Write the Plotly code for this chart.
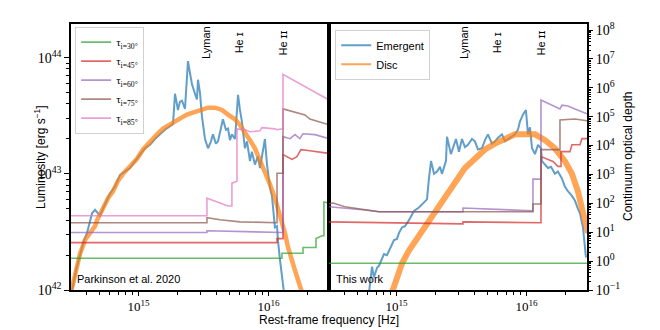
import numpy as np
import plotly.graph_objects as go

# ---- data (log10 frequency [Hz], log10 luminosity [erg/s], log10 optical depth) ----
# Parkinson et al. 2020 panel
lognu_emg_p = [14.488, 14.495, 14.518, 14.549, 14.58, 14.603, 14.626, 14.642, 14.665, 14.68, 14.703, 14.726,
               14.757, 14.78, 14.818, 14.857, 14.895, 14.934, 14.972, 15.011, 15.049, 15.088, 15.126, 15.165,
               15.203, 15.242, 15.265, 15.28, 15.296, 15.303, 15.318, 15.334, 15.357, 15.372, 15.38, 15.395,
               15.411, 15.434, 15.449, 15.457, 15.472, 15.488, 15.511, 15.534, 15.557, 15.572, 15.595, 15.611,
               15.634, 15.649, 15.672, 15.688, 15.703, 15.718, 15.742, 15.757, 15.765, 15.78, 15.795, 15.818,
               15.834, 15.857, 15.872, 15.895, 15.918, 15.934, 15.957, 15.972, 15.988, 16.011, 16.026, 16.034,
               16.049, 16.065, 16.072, 16.088, 16.103, 16.118, 16.126]
logL_emg_p = [42.0, 42.03, 42.17, 42.31, 42.43, 42.49, 42.60, 42.66, 42.69, 42.67, 42.64, 42.70,
              42.77, 42.83, 42.89, 42.99, 43.02, 43.05, 43.11, 43.17, 43.22, 43.25, 43.30, 43.34,
              43.38, 43.41, 43.43, 43.69, 43.57, 43.55, 43.62, 43.63, 43.56, 43.79, 43.97, 43.87,
              43.77, 43.69, 43.64, 43.81, 43.70, 43.49, 43.30, 43.22, 43.28, 43.34, 43.26, 43.28,
              43.40, 43.47, 43.38, 43.39, 43.29, 43.34, 43.30, 43.57, 43.68, 43.55, 43.45, 43.22,
              43.28, 43.11, 43.19, 43.08, 43.15, 43.05, 43.19, 43.30, 43.08, 42.88, 42.81, 42.71,
              42.54, 42.55, 42.43, 42.26, 42.13, 42.0, 41.91]

lognu_disc_p = [14.48, 14.495, 14.518, 14.549, 14.588, 14.626, 14.665, 14.68, 14.726, 14.765, 14.803, 14.842,
                14.88, 14.934, 14.988, 15.034, 15.088, 15.142, 15.188, 15.242, 15.295, 15.372, 15.449, 15.534,
                15.588, 15.642, 15.688, 15.742, 15.78, 15.818, 15.857, 15.895, 15.934, 15.972, 16.011, 16.049,
                16.072, 16.103, 16.126, 16.149, 16.18, 16.203, 16.234, 16.257]
logL_disc_p = [41.98, 42.06, 42.17, 42.31, 42.43, 42.49, 42.55, 42.60, 42.71, 42.79, 42.85, 42.94,
               43.0, 43.06, 43.13, 43.21, 43.28, 43.34, 43.39, 43.43, 43.46, 43.51, 43.54, 43.57,
               43.57, 43.55, 43.51, 43.47, 43.42, 43.36, 43.29, 43.22, 43.12, 43.02, 42.91, 42.79,
               42.70, 42.60, 42.49, 42.37, 42.27, 42.17, 42.06, 41.98]

tau_p = {
    30: ([14.48, 16.103, 16.103, 16.265, 16.265, 16.365, 16.365, 16.411, 16.426, 16.426, 16.465],
         [0.10, 0.10, 0.27, 0.27, 0.47, 0.47, 0.78, 0.88, 0.88, 2.05, 2.01]),
    45: ([14.48, 16.065, 16.065, 16.111, 16.111, 16.142, 16.18, 16.218, 16.249, 16.303, 16.357, 16.465],
         [0.64, 0.64, 0.78, 0.78, 3.69, 3.62, 3.52, 3.62, 3.86, 3.83, 3.79, 3.73]),
    60: ([14.48, 15.526, 15.526, 16.065, 16.111, 16.111, 16.165, 16.203, 16.241, 16.265, 16.357, 16.465],
         [0.99, 0.99, 1.05, 0.99, 0.99, 4.31, 4.24, 4.38, 4.24, 4.41, 4.38, 4.24]),
    75: ([14.48, 15.526, 15.526, 15.626, 15.78, 16.065, 16.065, 16.111, 16.111, 16.203, 16.28, 16.318, 16.465],
         [1.33, 1.33, 1.50, 1.43, 1.36, 1.33, 3.04, 3.04, 5.27, 5.16, 5.06, 4.92, 4.72]),
    85: ([14.48, 15.526, 15.526, 15.588, 15.688, 15.718, 15.718, 15.757, 15.757, 15.818, 15.857, 15.934,
          15.949, 16.049, 16.065, 16.111, 16.111, 16.465],
         [1.57, 1.57, 2.18, 2.08, 1.91, 1.91, 2.70, 2.77, 4.58, 4.55, 4.48, 4.51,
          4.62, 4.58, 4.55, 4.58, 6.47, 5.58]),
}

# This work panel
lognu_emg_t = [14.788, 14.811, 14.826, 14.849, 14.865, 14.903, 14.926, 14.942, 14.98, 15.003, 15.018, 15.042,
               15.065, 15.095, 15.118, 15.134, 15.172, 15.211, 15.234, 15.249, 15.265, 15.288, 15.311, 15.334,
               15.349, 15.38, 15.388, 15.418, 15.457, 15.48, 15.503, 15.526, 15.549, 15.58, 15.603, 15.626,
               15.657, 15.68, 15.703, 15.734, 15.757, 15.78, 15.811, 15.834, 15.857, 15.888, 15.911, 15.934,
               15.949, 15.972, 15.995, 16.011, 16.026, 16.042, 16.065, 16.088, 16.111, 16.118, 16.142, 16.165,
               16.188, 16.218, 16.241, 16.272, 16.295, 16.318, 16.349, 16.372, 16.395, 16.411, 16.434, 16.449,
               16.457]
logL_emg_t = [41.98, 42.20, 42.11, 42.19, 42.21, 42.31, 42.30, 42.34, 42.43, 42.44, 42.49, 42.54,
              42.55, 42.60, 42.65, 42.68, 42.71, 42.75, 42.78, 42.96, 43.11, 43.0, 43.02, 43.06,
              43.0, 43.11, 43.32, 43.17, 43.30, 43.19, 43.30, 43.23, 43.25, 43.30, 43.28, 43.21,
              43.22, 43.29, 43.34, 43.26, 43.28, 43.31, 43.34, 43.28, 43.30, 43.32, 43.34, 43.38,
              43.45, 43.51, 43.55, 43.34, 43.40, 43.22, 43.17, 43.25, 43.22, 43.11, 43.08, 43.05,
              43.06, 43.0, 43.02, 42.96, 42.89, 42.85, 42.81, 42.77, 42.70, 42.66, 42.54, 42.38,
              42.28]

lognu_disc_t = [14.965, 15.003, 15.042, 15.095, 15.149, 15.195, 15.249, 15.303, 15.349, 15.403, 15.457, 15.526,
                15.603, 15.68, 15.757, 15.834, 15.911, 15.988, 16.065, 16.142, 16.218, 16.295, 16.349, 16.395,
                16.434, 16.472]
logL_disc_t = [41.98, 42.11, 42.23, 42.34, 42.43, 42.51, 42.60, 42.68, 42.77, 42.85, 42.94, 43.05,
               43.13, 43.21, 43.26, 43.30, 43.34, 43.34, 43.34, 43.29, 43.22, 43.11, 43.0, 42.85,
               42.68, 42.49]

tau_t = {
    30: ([14.48, 16.465], [-0.075, -0.075]),
    45: ([14.48, 14.872, 15.511, 15.511, 16.111, 16.111, 16.203, 16.241, 16.265, 16.265, 16.334, 16.349,
          16.411, 16.426, 16.465],
         [1.36, 1.33, 1.29, 1.36, 1.33, 3.62, 3.45, 3.28, 3.28, 3.79, 3.79, 4.03,
          4.03, 4.24, 4.24]),
    60: ([14.48, 14.603, 14.757, 14.865, 15.511, 15.511, 16.049, 16.049, 16.111, 16.111, 16.218, 16.257,
          16.272, 16.318, 16.372, 16.434, 16.465],
         [1.88, 1.84, 1.77, 1.71, 1.71, 1.84, 1.74, 2.84, 2.84, 5.58, 5.37, 5.27,
          5.40, 5.37, 5.27, 5.16, 5.10]),
    75: ([14.48, 14.511, 14.603, 14.757, 14.865, 16.049, 16.049, 16.111, 16.111, 16.257, 16.257, 16.372, 16.465],
         [1.98, 2.01, 1.88, 1.77, 1.71, 1.71, 1.98, 1.98, 3.86, 3.86, 4.89, 4.92, 4.86]),
}

incl_colors = {30: "#2ca02c", 45: "#d62728", 60: "#9467bd", 75: "#8c564b", 85: "#e377c2"}
edges = [("Lyman", 15.517, 0.862), ("He ɪ", 15.774, 0.881), ("He ɪɪ", 16.115, 0.874)]

fig = go.Figure()


def pw(a):
    return 10 ** np.array(a)


for xa, ya, nu_e, L_e, nu_d, L_d, dw in [("x", "y", lognu_emg_p, logL_emg_p, lognu_disc_p, logL_disc_p, 4.5),
                                         ("x2", "y2", lognu_emg_t, logL_emg_t, lognu_disc_t, logL_disc_t, 6)]:
    fig.add_trace(go.Scatter(x=pw(nu_e), y=pw(L_e), mode="lines", showlegend=False,
                             line=dict(color="#1f77b4", width=2), opacity=0.7, xaxis=xa, yaxis=ya))
    fig.add_trace(go.Scatter(x=pw(nu_d), y=pw(L_d), mode="lines", showlegend=False,
                             line=dict(color="#ff7f0e", width=dw), opacity=0.7, xaxis=xa, yaxis=ya))

# legend entries with thin sample lines
for name, col in [("Emergent", "#1f77b4"), ("Disc", "#ff7f0e")]:
    fig.add_trace(go.Scatter(x=[None], y=[None], mode="lines", name=name, legend="legend2",
                             line=dict(color=col, width=2), opacity=0.7, xaxis="x2", yaxis="y2"))

for inc, (nu, tau) in tau_p.items():
    fig.add_trace(go.Scatter(x=pw(nu), y=pw(tau), mode="lines",
                             name="τ<sub>i=%d°</sub>" % inc,
                             line=dict(color=incl_colors[inc], width=1.6), opacity=0.7,
                             xaxis="x", yaxis="y3", legend="legend"))
for inc, (nu, tau) in tau_t.items():
    fig.add_trace(go.Scatter(x=pw(nu), y=pw(tau), mode="lines", showlegend=False,
                             line=dict(color=incl_colors[inc], width=1.6), opacity=0.7,
                             xaxis="x2", yaxis="y4"))


def dec_ticks(lo, hi):
    vals = [10.0 ** e for e in range(lo, hi + 1)]
    text = ["10<sup>%s</sup>" % (str(e) if e >= 0 else "−%d" % -e) for e in range(lo, hi + 1)]
    minor = [m * 10.0 ** e for e in range(lo - 1, hi + 1) for m in range(2, 10)]
    return vals, text, minor


xv, xt, xm = dec_ticks(15, 16)
lv, lt, lm = dec_ticks(42, 44)
tv, tt, tm = dec_ticks(-1, 8)
xm = [m * 10.0 ** e for e in range(14, 17) for m in range(2, 10)]


def log_axis(vals, text, minor, size=14, tlen=5):
    return dict(type="log", tickmode="array", tickvals=vals, ticktext=text,
                ticks="outside", ticklen=tlen, tickwidth=1, tickcolor="black",
                minor=dict(tickmode="array", tickvals=minor, ticks="outside", ticklen=3,
                           tickwidth=0.8, tickcolor="black", showgrid=False),
                showgrid=False, zeroline=False,
                tickfont=dict(family="Liberation Serif", size=size, color="black"))


spine = dict(showline=True, linecolor="black", linewidth=1.5, mirror=True)

fig.update_layout(
    width=652, height=322,
    margin=dict(l=63, r=73, t=13, b=40),
    plot_bgcolor="white", paper_bgcolor="white",
    font=dict(family="Liberation Sans", size=11, color="black"),
    xaxis=dict(domain=[0, 0.5], anchor="y", range=[14.48, 16.465], **log_axis(xv, xt, xm, 13, 4), **spine),
    xaxis2=dict(domain=[0.5, 1], anchor="y2", range=[14.48, 16.465], **log_axis(xv, xt, xm, 13, 4), **spine),
    yaxis=dict(range=[42, 44.29], anchor="x", **log_axis(lv, lt, lm), **spine),
    yaxis2=dict(type="log", range=[42, 44.29], anchor="x2", showticklabels=False, ticks="",
                showgrid=False, zeroline=False, **spine),
    yaxis3=dict(type="log", range=[-1, 8.21], overlaying="y", anchor="x", visible=False),
    yaxis4=dict(range=[-1, 8.21], overlaying="y2", anchor="x2", side="right", **log_axis(tv, tt, tm)),
    legend=dict(x=0.008, y=0.99, xanchor="left", yanchor="top", itemwidth=30,
                bgcolor="rgba(255,255,255,0.85)", bordercolor="#d0d0d0", borderwidth=1,
                font=dict(family="Liberation Serif", size=11)),
    legend2=dict(x=0.512, y=0.978, xanchor="left", yanchor="top", itemwidth=30,
                 bgcolor="rgba(255,255,255,0.85)", bordercolor="#d0d0d0", borderwidth=1,
                 font=dict(family="Liberation Sans", size=11)),
)

ann = [
    dict(text="Rest-frame frequency [Hz]", x=0.5, y=-0.112, xref="paper", yref="paper",
         showarrow=False, font=dict(size=12), xanchor="center", yanchor="middle"),
    dict(text="Luminosity [erg s<sup>−1</sup>]", x=-0.060, y=0.5, xref="paper", yref="paper",
         showarrow=False, textangle=-90, font=dict(size=12), xanchor="center", yanchor="middle"),
    dict(text="Continuum optical depth", x=1.0795, y=0.5, xref="paper", yref="paper",
         showarrow=False, textangle=-90, font=dict(size=12), xanchor="center", yanchor="middle"),
    dict(text="Parkinson et al. 2020", x=0.008, y=0.01, xref="paper", yref="paper",
         showarrow=False, font=dict(size=11), xanchor="left", yanchor="bottom"),
    dict(text="This work", x=0.510, y=0.01, xref="paper", yref="paper",
         showarrow=False, font=dict(size=11), xanchor="left", yanchor="bottom"),
]
for xr in ["x", "x2"]:
    for label, lx, ly in edges:
        ann.append(dict(text=label, x=lx, y=ly, xref=xr, yref="paper", showarrow=False,
                        textangle=-90, font=dict(size=11), xanchor="center", yanchor="bottom"))
fig.update_layout(annotations=ann)

fig.write_html("out.html")
